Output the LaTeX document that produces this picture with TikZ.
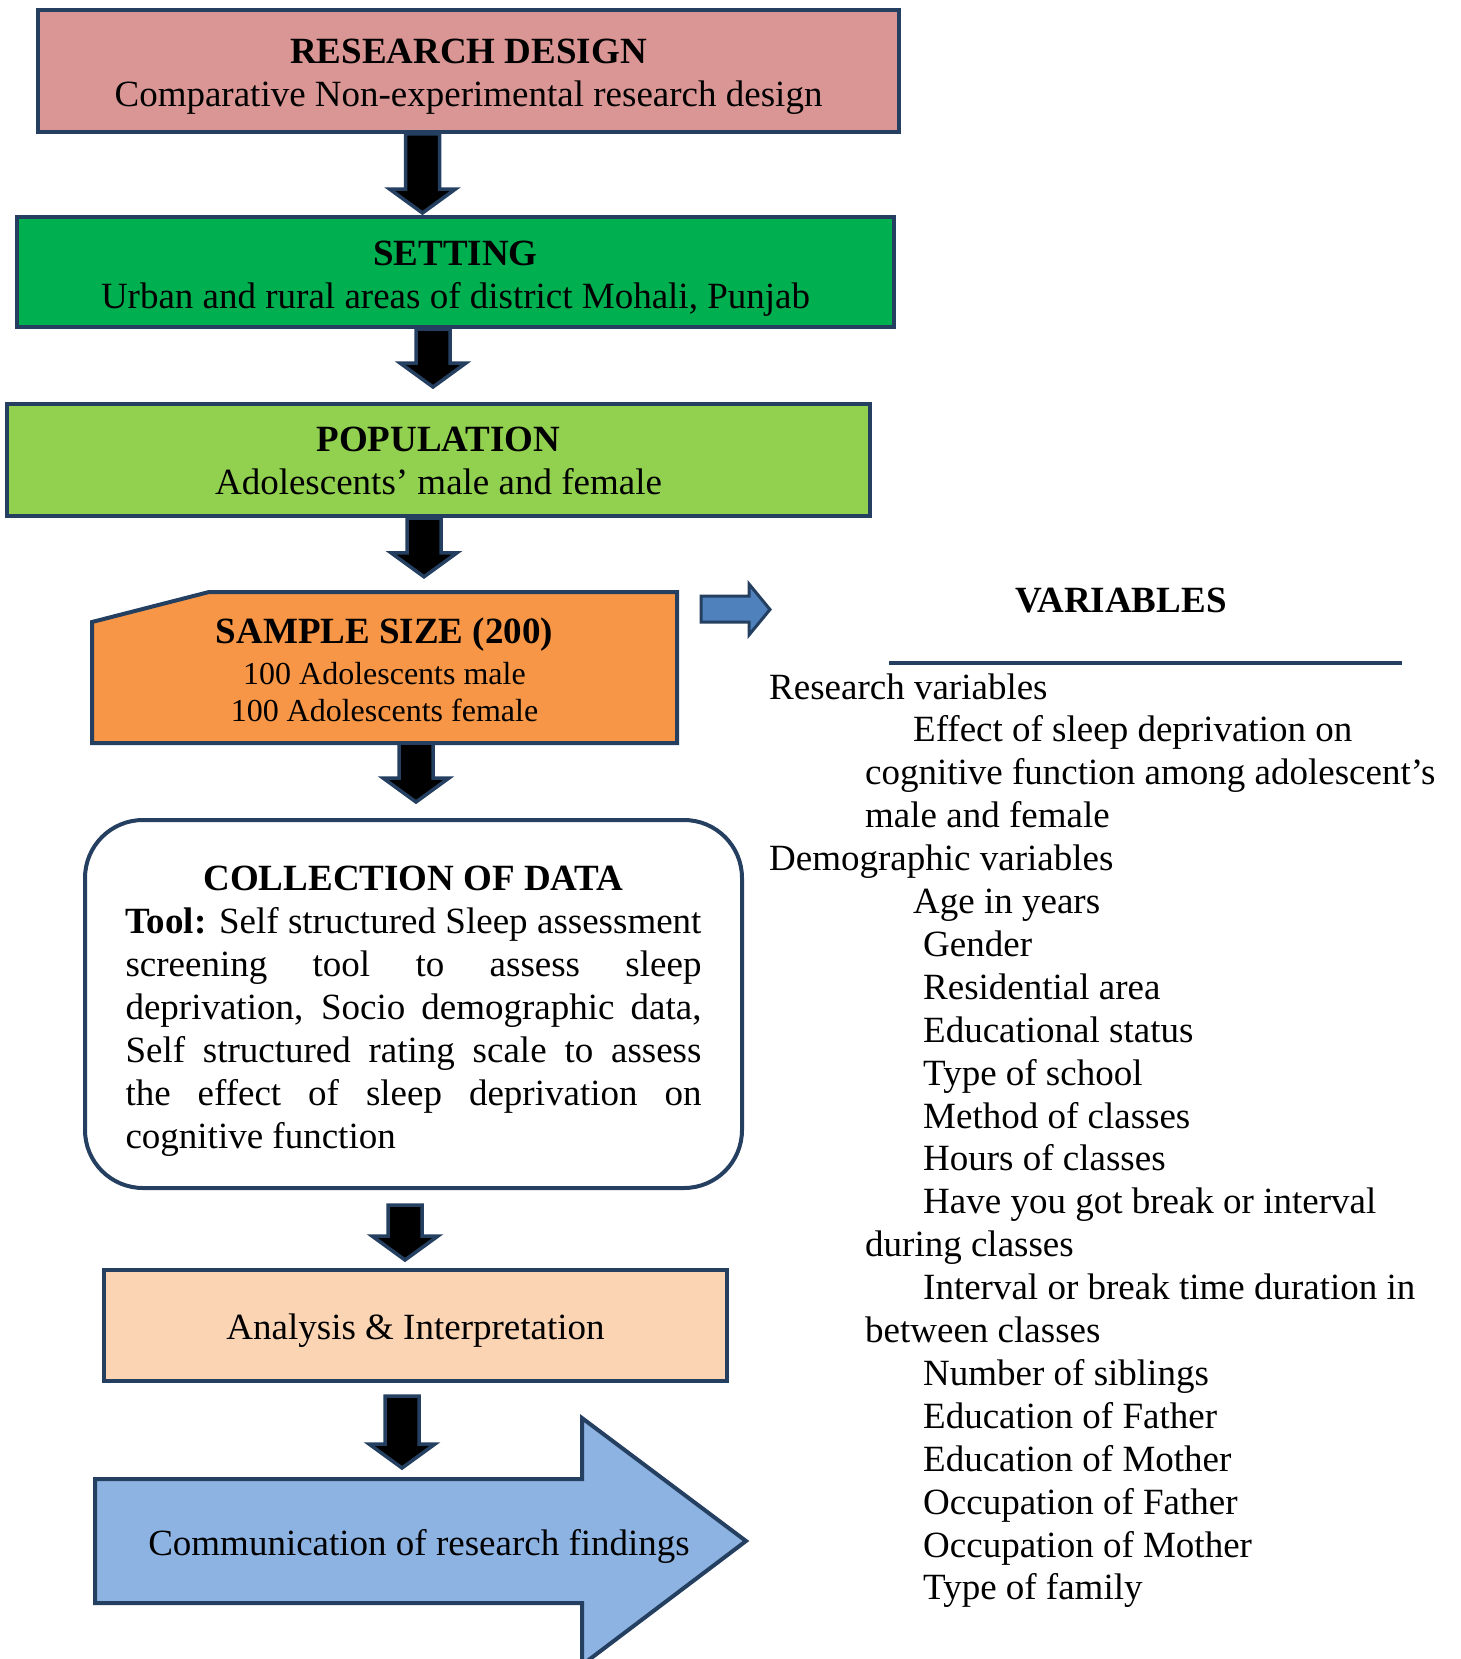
\documentclass[tikz,border=0pt]{standalone}
\usepackage{fontspec}
\setmainfont{Liberation Serif}
\usetikzlibrary{calc}
\definecolor{edgeblue}{HTML}{243F60}
\definecolor{pinkbox}{HTML}{D99694}
\definecolor{greenbox}{HTML}{00B050}
\definecolor{limebox}{HTML}{92D050}
\definecolor{orangebox}{HTML}{F79646}
\definecolor{peachbox}{HTML}{FBD4B4}
\definecolor{commblue}{HTML}{8DB3E2}
\definecolor{smallblue}{HTML}{4F81BD}
\newcommand\smallfont{\fontsize{32}{37}\selectfont}

\begin{document}
\begin{tikzpicture}[x=1pt, y=-1pt,
    every node/.style={font=\fontsize{37}{43}\selectfont, inner sep=0pt},
    box/.style={rectangle, draw=edgeblue, line width=4pt},
    boxtext/.style={align=center},
    shapeline/.style={draw=edgeblue, line width=4pt, line join=miter},
    blockdown/.style={draw=edgeblue, line width=3.5pt, fill=black, line join=miter,
      to path={let \p1=(\tikztostart), \p2=(\tikztotarget) in
        (\x1-17pt,\y1) -- (\x1-17pt,\y2+24pt) -- (\x1-33pt,\y2+24pt) -- (\x1,\y2)
        -- (\x1+33pt,\y2+24pt) -- (\x1+17pt,\y2+24pt) -- (\x1+17pt,\y1) -- cycle}},
    varline/.style={anchor=base west}]
    \useasboundingbox (0,0) rectangle (1460,1659);

    % left column
    \node[box, fill=pinkbox, minimum width=861pt, minimum height=122pt] (design) at (468.5,71) {};
    \node[boxtext] (designtext) at ([yshift=-6pt]design.center)
        {\textbf{RESEARCH DESIGN}\\Comparative Non-experimental research design};
    \node[box, fill=greenbox, minimum width=877pt, minimum height=110pt] (setting) at (455.5,272) {};
    \node[boxtext] (settingtext) at ([yshift=-7pt]setting.center)
        {\textbf{SETTING}\\Urban and rural areas of district Mohali, Punjab};
    \node[box, fill=limebox, minimum width=863pt, minimum height=112pt] (population) at (438.5,460) {};
    \node[boxtext] (populationtext) at ([yshift=-1pt]population.center)
        {\textbf{POPULATION}\\Adolescents’ male and female};

    \draw[shapeline, fill=orangebox] (92,622) -- (209,592) -- (677,592) -- (677,743) -- (92,743) -- cycle;
    \node[minimum width=585pt, minimum height=151pt] (sample) at (384.5,667.5) {};
    \node[boxtext] (sampletext) at ([yshift=-2pt]sample.center)
        {\textbf{SAMPLE SIZE (200)}\\[-2pt]\smallfont 100 Adolescents male\\[-6pt]\smallfont 100 Adolescents female};

    \node[box, rounded corners=58pt, fill=white, minimum width=657pt, minimum height=368pt] (collection) at (413.5,1004) {};
    \node[boxtext] (collectiontext) at ([yshift=-7pt]collection.center)
        {\textbf{COLLECTION OF DATA}\\
         \makebox[576pt][s]{\textbf{Tool:} Self structured Sleep assessment}\\
         \makebox[576pt][s]{screening tool to assess sleep}\\
         \makebox[576pt][s]{deprivation, Socio demographic data,}\\
         \makebox[576pt][s]{Self structured rating scale to assess}\\
         \makebox[576pt][s]{the effect of sleep deprivation on}\\
         \makebox[576pt][l]{cognitive function}};

    \node[box, fill=peachbox, minimum width=623pt, minimum height=111pt] (analysis) at (415.5,1325.5) {};
    \node[boxtext] (analysistext) at ([yshift=-5pt]analysis.center) {Analysis \& Interpretation};

    \draw[shapeline, fill=commblue] (95,1479) -- (582,1479) -- (582,1418) -- (746,1541)
        -- (582,1665) -- (582,1603) -- (95,1603) -- cycle;
    \node (comm) at (419,1546) {Communication of research findings};
    \coordinate (commtop) at (402,1479);

    % block arrows
    \draw[blockdown] ([xshift=-46pt]design.south) to ([xshift=-46pt,yshift=2pt]setting.north);
    \draw[blockdown] ([xshift=-22.5pt]setting.south) to ([xshift=-22.5pt,yshift=15pt]population.north);
    \draw[blockdown] ([xshift=-14.5pt]population.south) to ([xshift=-14.5pt,yshift=15pt]sample.north);
    \draw[blockdown] ([xshift=31.5pt]sample.south) to ([xshift=31.5pt,yshift=16pt]collection.north);
    \draw[blockdown] ([xshift=-8.5pt,yshift=-15pt]collection.south) to ([xshift=-8.5pt,yshift=8pt]analysis.north);
    \draw[blockdown] ([xshift=-13.5pt,yshift=-13pt]analysis.south) to ([yshift=11pt]commtop);

    % variables
    \draw[draw=edgeblue, line width=3pt, line join=miter, fill=smallblue] (701,596) -- (749,596) -- (749,584)
        -- (770,609.5) -- (749,635) -- (749,622) -- (701,622) -- cycle;
    \node (vartitle) at (1121,601) {\textbf{VARIABLES}};
    \draw[edgeblue, line width=4pt] (889,663) -- (1402,663);
    \foreach \vx/\vt [count=\i from 0] in {769/Research variables, 913/Effect of sleep deprivation on,
        865/cognitive function among adolescent’s, 865/male and female, 769/Demographic variables,
        913/Age in years, 923/Gender, 923/Residential area, 923/Educational status, 923/Type of school,
        923/Method of classes, 923/Hours of classes, 923/Have you got break or interval,
        865/during classes, 923/Interval or break time duration in, 865/between classes,
        923/Number of siblings, 923/Education of Father, 923/Education of Mother,
        923/Occupation of Father, 923/Occupation of Mother, 923/Type of family}
        \node[varline] (var\i) at ({\vx},{699+42.9*\i}) {\vt};
\end{tikzpicture}
\end{document}
